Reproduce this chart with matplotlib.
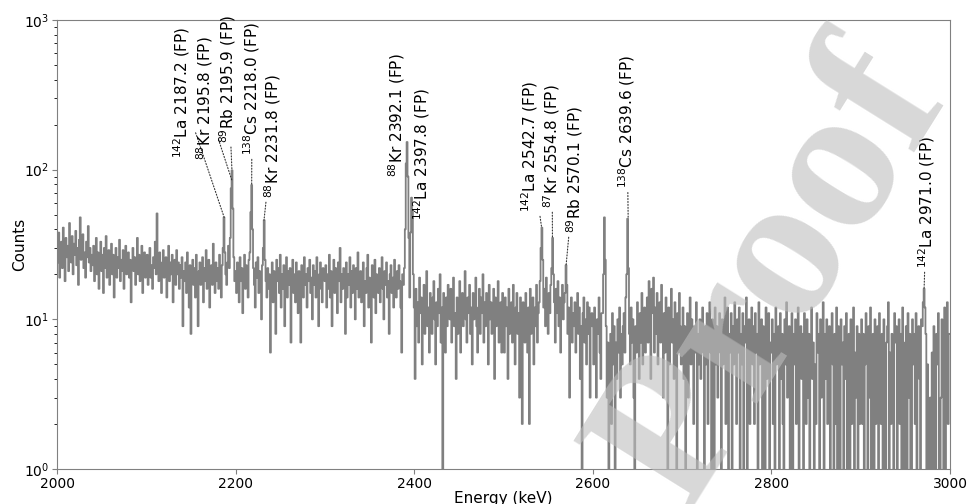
import numpy as np
import matplotlib
matplotlib.use('Agg')
import matplotlib.pyplot as plt

# spectrum, 1 keV per channel starting at 2000 keV (counts)
e_start = 2000
seg_2000 = [30, 24, 38, 19, 27, 33, 22, 41, 28, 18, 35, 26, 31, 21, 44, 29, 24, 36, 20, 32,
            27, 39, 23, 30, 17, 34, 48, 25, 29, 37, 22, 28, 19, 33, 26, 42, 24, 30, 21, 27,
            23, 31, 18, 26, 35, 20, 28, 16, 24, 33, 21, 27, 15, 30, 22, 36, 19, 25, 29, 17,
            24, 32, 20, 27, 14, 23, 30, 19, 26, 22, 34, 18, 25, 21, 29, 16, 24, 31, 20, 23,
            28, 19, 25, 13, 22, 30, 21, 26, 17, 24, 35, 20, 27, 18, 23, 31, 15, 22, 28, 19]
seg_2100 = [21, 27, 17, 24, 30, 19, 23, 16, 26, 22, 33, 20, 51, 25, 18, 28, 21, 15, 24, 29,
            19, 23, 26, 14, 21, 31, 18, 24, 20, 27, 13, 22, 25, 17, 29, 20, 24, 16, 23, 19,
            26, 9, 21, 18, 24, 15, 28, 20, 12, 23, 8, 19, 25, 17, 22, 14, 27, 19, 9, 21,
            24, 17, 20, 26, 13, 22, 18, 29, 16, 21, 25, 12, 19, 23, 17, 32, 20, 15, 24, 18,
            22, 16, 27, 19, 14, 23, 30, 48, 28, 20, 17, 24, 31, 22, 35, 75, 99, 55, 26, 18]
seg_2200 = [21, 15, 24, 19, 13, 26, 18, 22, 11, 20, 27, 16, 23, 19, 14, 25, 28, 52, 79, 40,
            22, 17, 12, 24, 19, 26, 15, 21, 18, 10, 23, 30, 46, 25, 18, 14, 22, 16, 20, 6,
            19, 24, 13, 21, 17, 8, 25, 18, 22, 15, 27, 12, 20, 16, 23, 9, 19, 26, 14, 21,
            17, 22, 7, 19, 25, 15, 20, 13, 24, 18, 11, 21, 16, 7, 23, 19, 14, 26, 17, 20,
            12, 22, 18, 25, 15, 19, 10, 23, 17, 21, 14, 26, 18, 9, 20, 24, 16, 13, 22, 19]
seg_2300 = [18, 23, 12, 20, 16, 27, 14, 21, 9, 19, 25, 15, 22, 17, 11, 24, 18, 30, 13, 20,
            16, 22, 19, 8, 24, 14, 20, 17, 26, 12, 21, 15, 23, 18, 10, 22, 16, 28, 14, 19,
            21, 13, 17, 24, 9, 18, 15, 22, 27, 12, 19, 16, 7, 23, 17, 14, 25, 11, 20, 18,
            15, 22, 13, 19, 26, 16, 10, 21, 17, 24, 14, 18, 8, 20, 23, 15, 19, 12, 25, 17,
            14, 21, 16, 23, 18, 12, 6, 20, 17, 22, 40, 110, 153, 90, 35, 14, 38, 65, 52, 20]
seg_2400 = [12, 4, 16, 9, 13, 7, 19, 11, 14, 5, 10, 17, 8, 13, 21, 9, 12, 6, 15, 11,
            8, 14, 18, 10, 5, 13, 9, 16, 11, 20, 7, 12, 0, 15, 10, 6, 14, 9, 17, 12,
            10, 16, 7, 13, 19, 9, 11, 4, 14, 8, 12, 18, 6, 11, 15, 9, 13, 21, 10, 7,
            14, 11, 17, 8, 12, 5, 15, 10, 13, 19, 9, 6, 12, 16, 8, 14, 11, 20, 7, 13,
            9, 15, 12, 5, 17, 10, 13, 8, 11, 16, 4, 14, 9, 12, 18, 7, 10, 13, 6, 15]
seg_2500 = [10, 6, 14, 9, 12, 4, 16, 8, 11, 13, 7, 17, 9, 5, 12, 15, 8, 11, 3, 14,
            9, 2, 13, 10, 7, 15, 11, 6, 12, 2, 16, 8, 10, 14, 5, 12, 9, 17, 7, 11,
            13, 18, 30, 41, 25, 12, 16, 9, 19, 14, 8, 15, 11, 17, 22, 35, 20, 13, 7, 16,
            11, 18, 9, 14, 6, 12, 17, 10, 13, 15, 23, 17, 8, 12, 3, 10, 14, 7, 11, 9,
            13, 6, 10, 15, 8, 12, 4, 9, 0, 11, 14, 7, 10, 5, 13, 8, 12, 3, 9, 11]
seg_2600 = [9, 5, 12, 7, 3, 10, 8, 14, 6, 4, 11, 11, 20, 48, 25, 9, 3, 7, 0, 6,
            8, 2, 11, 5, 9, 0, 7, 4, 10, 6, 12, 3, 8, 5, 9, 11, 6, 14, 20, 47,
            22, 8, 5, 12, 7, 10, 3, 0, 9, 6, 13, 8, 4, 11, 7, 15, 5, 9, 12, 6,
            10, 14, 7, 18, 9, 4, 16, 11, 19, 6, 12, 8, 15, 5, 10, 13, 7, 17, 9, 3,
            11, 6, 14, 8, 0, 12, 5, 9, 16, 7, 10, 4, 13, 8, 1, 11, 6, 15, 9, 5]
seg_2700 = [7, 12, 4, 9, 0, 6, 11, 3, 8, 14, 5, 10, 7, 2, 9, 6, 13, 1, 8, 5,
            10, 4, 7, 12, 6, 0, 9, 5, 11, 2, 8, 13, 6, 1, 10, 7, 0, 12, 5, 9,
            3, 8, 11, 6, 0, 10, 5, 9, 14, 2, 7, 12, 0, 8, 6, 11, 0, 9, 5, 13,
            7, 2, 10, 6, 12, 1, 8, 5, 11, 0, 9, 7, 14, 0, 6, 10, 2, 8, 12, 5,
            9, 2, 11, 6, 8, 0, 13, 5, 7, 10, 0, 9, 6, 1, 12, 4, 8, 11, 0, 7]
seg_2800 = [6, 10, 2, 8, 0, 12, 5, 7, 9, 0, 11, 4, 8, 2, 0, 10, 5, 13, 3, 7,
            9, 1, 6, 11, 0, 8, 5, 10, 2, 7, 12, 0, 6, 9, 4, 8, 0, 11, 5, 2,
            10, 3, 8, 0, 6, 12, 4, 7, 1, 5, 2, 11, 6, 8, 0, 10, 3, 7, 13, 0,
            8, 4, 10, 2, 6, 9, 0, 7, 11, 5, 0, 8, 2, 12, 1, 9, 4, 0, 10, 5,
            7, 0, 9, 4, 11, 1, 3, 8, 0, 10, 2, 7, 12, 0, 6, 3, 9, 0, 8, 2]
seg_2900 = [6, 10, 2, 8, 0, 5, 11, 7, 0, 9, 3, 12, 1, 6, 8, 0, 10, 2, 7, 9,
            0, 11, 6, 2, 8, 0, 10, 5, 1, 7, 9, 13, 0, 6, 2, 8, 5, 0, 11, 7,
            9, 0, 6, 10, 2, 8, 0, 12, 5, 1, 7, 9, 0, 11, 3, 8, 1, 0, 10, 5,
            8, 2, 11, 0, 6, 9, 4, 0, 10, 9, 13, 16, 12, 8, 0, 5, 1, 0, 3, 0,
            6, 0, 9, 2, 0, 8, 5, 11, 1, 0, 3, 10, 7, 0, 12, 0, 9, 13, 2, 8]

counts = np.array(seg_2000 + seg_2100 + seg_2200 + seg_2300 + seg_2400 +
                  seg_2500 + seg_2600 + seg_2700 + seg_2800 + seg_2900)
energy = e_start + np.arange(len(counts))

# peak labels
labels = [r'$^{142}$La 2187.2 (FP)', r'$^{88}$Kr 2195.8 (FP)', r'$^{89}$Rb 2195.9 (FP)',
          r'$^{138}$Cs 2218.0 (FP)', r'$^{88}$Kr 2231.8 (FP)', r'$^{88}$Kr 2392.1 (FP)',
          r'$^{142}$La 2397.8 (FP)', r'$^{142}$La 2542.7 (FP)', r'$^{87}$Kr 2554.8 (FP)',
          r'$^{89}$Rb 2570.1 (FP)', r'$^{138}$Cs 2639.6 (FP)', r'$^{142}$La 2971.0 (FP)']
peak_e = [2187.2, 2195.8, 2195.9, 2218.0, 2231.8, 2392.1, 2397.8, 2542.7, 2554.8, 2570.1, 2639.6, 2971.0]
peak_c = [48, 85, 99, 79, 46, 153, 65, 41, 35, 23, 47, 16]
# where the label text sits (energy, counts) and whether a leader line is drawn
text_e = [2140, 2165.7, 2191.5, 2218.4, 2241.9, 2380.7, 2408.7, 2529.7, 2554.3, 2580, 2638.3, 2974]
text_c = [119, 116, 151, 125, 64.6, 89.6, 46, 52, 55.4, 37.7, 75, 22]
leader = [True, True, True, True, True, False, False, True, True, True, True, True]

fig = plt.figure(figsize=(9.68, 5.04), dpi=100)
ax = fig.add_axes([0.0589, 0.0694, 0.9225, 0.8909])

ax.plot(energy, counts, color='#808080', lw=1.3, drawstyle='steps-mid')
ax.set_yscale('log')
ax.set_xlim(2000, 3000)
ax.set_ylim(1, 1000)
ax.set_xticks([2000, 2200, 2400, 2600, 2800, 3000])
ax.set_xlabel('Energy (keV)', fontsize=11, labelpad=0)
ax.set_ylabel('Counts', fontsize=11, labelpad=-2)
ax.tick_params(labelsize=10, color='#808080', pad=2)
for s in ax.spines.values():
    s.set_color('#808080')

for lab, pe, pc, te, tc, ld in zip(labels, peak_e, peak_c, text_e, text_c, leader):
    props = dict(arrowstyle='-', linestyle=':', color='#333333', lw=0.8,
                 shrinkA=1, shrinkB=0) if ld else None
    ax.annotate(lab, xy=(pe, pc), xytext=(te, tc), rotation=90,
                ha='center', va='bottom', fontsize=11, arrowprops=props)

# watermark
fig.text(0.80, 0.45, 'Proof', rotation=58, fontsize=150, family='Liberation Serif',
         weight='bold', color='#bebebe', alpha=0.6, ha='center', va='center', zorder=10)

fig.savefig('out.png', dpi=100)
